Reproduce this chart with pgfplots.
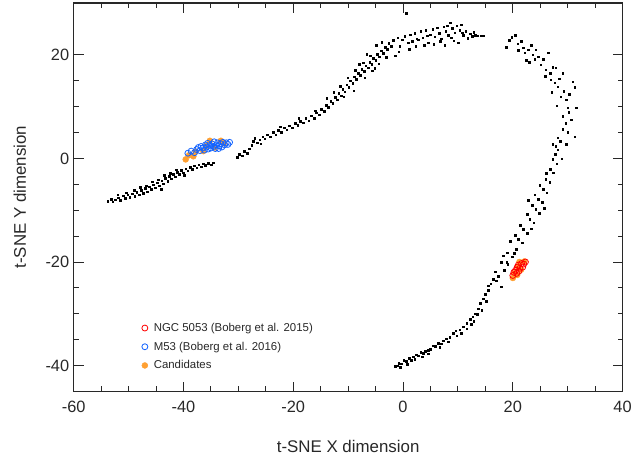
\documentclass[border=0pt]{standalone}
\usepackage{fontspec}
\setmainfont{Liberation Sans}
\usepackage{pgfplots}
\pgfplotsset{compat=1.18}
\definecolor{myblue}{RGB}{20,100,255}
\definecolor{myorange}{RGB}{255,160,50}
\definecolor{myred}{RGB}{255,0,0}
\definecolor{axgray}{RGB}{40,40,40}
\begin{document}
\begin{tikzpicture}
\begin{axis}[
 scale only axis, width=551bp, height=390bp,
 xmin=-60,xmax=40,ymin=-45,ymax=30,
 xtick={-60,-40,-20,0,20,40}, ytick={-40,-20,0,20},
 minor x tick num=3, minor y tick num=3,
 tick pos=both,
 tick align=inside,
 major tick length=10bp, minor tick length=5bp,
 axis on top,
 axis line style={axgray, line width=1.2bp},
 every tick/.style={axgray, line width=0.9bp},
 ticklabel style={font=\fontsize{16.5}{20}\selectfont, text=axgray},
 xticklabel style={yshift=-6bp},
 yticklabel style={xshift=-1bp},
 /pgf/number format/assume math mode=true,
 xlabel={t-SNE X dimension}, ylabel={t-SNE Y dimension},
 label style={font=\fontsize{17}{20}\selectfont, text=axgray},
 xlabel style={at={(axis description cs:0.5,-0.142)},anchor=center},
 ylabel style={at={(axis description cs:-0.098,0.5)},anchor=center},
 legend style={at={(rel axis cs:0.122,0.184)}, anchor=north west, draw=none, fill=none,
   font=\fontsize{11.5}{14}\selectfont, text=axgray, row sep=5bp, inner sep=1bp,
   /tikz/every odd column/.append style={column sep=4bp}},
 legend cell align=left,
 legend image code/.code={\draw[#1] plot coordinates {(3bp,0bp)};},
]
% t-SNE points
\addplot[only marks, mark=square*, mark size=0.8bp, black, forget plot] coordinates {
(-53.8,-8.3) (-53.2,-7.9) (-52.9,-8.4) (-52.4,-8.0) (-51.9,-7.6) (-51.5,-8.1) (-51.0,-7.2) (-50.6,-7.7)
(-50.2,-7.0) (-49.8,-7.5) (-49.3,-6.8) (-48.9,-7.3) (-48.5,-6.5) (-48.1,-7.0) (-47.7,-6.2) (-47.3,-6.7)
(-47.0,-5.8) (-46.6,-6.4) (-46.2,-5.5) (-45.9,-6.0) (-45.5,-5.1) (-45.1,-5.7) (-44.8,-4.7) (-44.4,-5.3)
(-44.0,-4.3) (-43.7,-4.9) (-43.3,-3.8) (-42.9,-4.4) (-42.6,-3.4) (-42.2,-3.9) (-41.9,-3.0) (-41.5,-3.5)
(-41.1,-2.7) (-40.8,-3.1) (-40.4,-2.3) (-40.0,-2.8) (-39.6,-2.0) (-39.2,-2.4) (-38.8,-1.7) (-38.4,-2.1)
(-38.0,-1.4) (-37.6,-1.8) (-37.2,-1.2) (-36.8,-1.6) (-36.4,-1.0) (-36.0,-1.3) (-35.5,-0.9) (-35.0,-1.2)
(-34.6,-0.8) (-49.0,-6.2) (-46.8,-5.3) (-44.6,-4.1) (-42.4,-2.9) (-52.0,-7.0) (-50.4,-6.6)
(-47.9,-5.6) (-45.7,-4.5) (-43.5,-3.3) (-41.3,-2.2) (-39.9,-3.3) (-44.1,-5.9)
(-30.2,0.2) (-29.8,0.8) (-29.3,0.5) (-28.9,1.4) (-28.4,1.0) (-28.0,1.9) (-27.6,2.6) (-27.3,3.3)
(-27.0,3.9) (-26.6,3.0) (-26.1,3.6) (-25.6,4.2) (-25.2,3.8) (-24.7,4.6) (-24.2,4.2) (-23.7,5.0)
(-23.2,4.6) (-22.7,5.4) (-22.2,5.0) (-21.7,5.9) (-21.2,5.5) (-20.7,6.3) (-20.2,5.9) (-19.7,6.8)
(-19.2,6.4) (-18.7,7.2) (-18.2,6.9) (-17.7,7.7) (-17.2,7.3) (-16.7,8.2) (-16.2,7.8) (-15.8,8.8)
(-15.3,8.4) (-14.9,9.5) (-14.4,9.1) (-14.0,10.3) (-13.6,9.9) (-13.2,11.0) (-12.8,10.6) (-12.4,11.8)
(-12.0,11.3) (-11.7,12.6) (-11.3,12.1) (-11.0,13.4) (-10.6,12.9) (-10.3,14.2) (-9.9,13.7) (-9.6,15.0)
(-9.2,14.5) (-8.9,15.8) (-8.5,15.3) (-8.2,16.5) (-7.8,16.1) (-7.5,17.2) (-7.1,16.8) (-6.8,17.9)
(-6.4,17.5) (-6.1,18.6) (-5.7,18.2) (-5.4,19.3) (-5.0,18.9) (-4.7,20.1) (-4.3,19.6) (-4.0,20.8)
(-3.6,20.3) (-3.3,21.5) (-2.9,21.1) (-2.6,22.2) (-2.2,21.7) (-11.5,13.9) (-10.1,15.6) (-8.7,17.0)
(-7.3,18.5) (-6.0,19.8) (-5.2,17.4) (-3.9,22.4) (-12.6,12.8) (-16.0,9.2)
(-25.9,2.8) (-22.4,6.1) (-19.0,7.8) (-13.9,11.6) (-10.8,11.9) (-9.0,13.1) (-7.0,15.6) (-5.6,16.9)
(-4.4,18.3) (-3.1,19.5) (-8.0,18.2) (-6.6,20.1) (-4.9,21.8)
(-1.8,22.8) (-1.4,19.8) (-1.0,23.3) (-0.6,21.6) (-0.2,22.9) (0.3,23.6) (0.6,28.0) (0.9,22.3)
(1.3,23.9) (1.7,22.6) (2.1,24.2) (2.5,23.1) (2.8,22.9) (3.2,24.5) (3.6,23.3) (4.1,24.8)
(4.6,22.3) (5.0,23.9) (5.4,24.9) (5.8,23.5) (6.2,25.2) (6.6,24.2) (7.0,23.1) (7.4,25.4)
(7.8,24.6) (8.2,23.8) (8.6,26.2) (9.0,25.1) (9.4,24.3) (9.8,25.6) (10.0,22.3) (10.3,24.8)
(10.6,25.8) (11.0,23.8) (11.4,24.5) (11.8,23.2) (12.2,24.1) (12.6,23.6) (13.1,23.8) (13.6,23.7)
(14.2,23.7) (14.7,23.7) (2.3,21.6) (4.4,23.7) (6.8,22.6) (8.8,23.3) (10.8,24.3) (12.9,24.4)
(3.9,21.9) (5.6,22.0) (-0.8,20.6) (1.1,21.1) (7.6,21.9) (9.2,22.7) (8.0,25.6)
(18.8,21.5) (19.3,22.8) (19.8,23.4) (20.4,23.8) (20.9,22.1) (21.5,22.6) (21.9,21.4) (22.2,20.4)
(22.4,19.0) (22.8,21.0) (23.3,21.9) (23.6,20.0) (24.0,19.2) (24.2,21.0) (24.6,19.6) (25.1,18.1)
(25.5,19.2) (26.0,17.1) (26.4,20.4) (26.8,16.5) (26.9,15.2) (27.3,17.6) (27.8,17.5) (27.6,14.6)
(28.2,13.8) (28.5,15.4) (28.7,11.9) (29.1,16.5) (29.3,13.0) (29.7,11.3) (30.0,9.8) (30.3,12.4)
(30.9,14.8) (31.3,13.7) (31.5,9.8) (29.1,8.1) (30.6,7.5) (29.6,6.8) (30.2,8.9) (29.1,5.6)
(30.0,5.0) (28.2,4.0) (31.3,4.2) (27.8,2.3) (29.7,2.7) (27.3,2.7) (28.6,3.3) (28.2,1.7)
(27.7,0.8) (27.3,-0.2) (28.0,-1.0) (26.8,-2.1) (27.4,-2.8) (26.0,-4.0) (26.7,-4.6) (25.5,-6.0)
(26.2,-6.6) (24.9,-5.2) (24.6,-7.9) (25.3,-8.5) (24.0,-7.0) (24.2,-9.8) (24.8,-10.6) (23.5,-9.0)
(23.1,-11.7) (23.8,-12.4) (22.6,-10.8) (21.9,-13.7) (22.6,-14.4) (21.3,-12.9) (21.0,-15.6) (21.7,-16.3)
(20.4,-14.8) (20.6,-17.5) (19.5,-16.0) (19.9,-19.0) (18.2,-18.8) (19.0,-18.2) (18.9,-20.1) (17.9,-20.0)
(19.1,-20.4) (16.8,-21.9) (17.3,-22.7) (18.4,-21.6) (16.4,-23.3) (16.0,-24.2) (15.5,-24.6) (17.9,-24.8)
(17.0,-23.6) (21.0,20.9) (23.0,18.6) (25.9,15.9) (27.1,12.8) (28.0,10.2) (28.9,-0.1) (26.1,-2.9)
(25.7,-9.6) (23.4,-13.6) (20.3,-18.3) (22.8,-8.1)
(15.5,-25.4) (15.0,-26.2) (14.6,-27.1) (15.2,-27.6) (14.1,-28.0) (13.7,-29.0) (14.3,-29.3) (13.2,-30.0)
(12.7,-30.6) (12.2,-31.0) (12.9,-31.4) (11.6,-31.8) (11.0,-32.5) (11.6,-32.9) (10.3,-33.1) (9.6,-33.3)
(9.1,-33.8) (9.8,-34.2) (8.5,-34.5) (7.9,-34.8) (7.3,-35.2) (7.0,-35.8) (6.4,-35.7) (5.9,-36.3)
(5.5,-36.2) (5.0,-36.8) (4.6,-37.0) (4.6,-37.7) (4.0,-37.2) (3.7,-37.6) (3.2,-37.4) (2.8,-38.1)
(2.4,-37.9) (1.9,-38.3) (1.5,-39.0) (1.1,-38.6) (0.6,-39.2) (0.1,-39.0) (-0.3,-39.6) (-0.8,-39.5)
(-1.1,-40.0) (-1.4,-40.1) (-0.5,-40.3) (0.8,-39.7) (2.1,-38.8) (3.5,-38.3) (6.7,-36.4) (8.2,-35.4)
(10.6,-33.8) (12.4,-32.0) (13.5,-30.1)
};
% candidates
\addplot[only marks, mark=*, mark size=3bp, myorange, forget plot] coordinates {
(-39.6,-0.2) (-39.0,0.6) (-38.2,0.4) (-37.8,1.3) (-35.2,3.4) (-33.2,3.4) (-34.3,2.1) (-36.4,1.4)
(-35.8,2.4) (-32.6,2.9)
(20.0,-23.1) (20.3,-22.2) (21.0,-21.0) (21.2,-20.0) (22.1,-19.9) (20.8,-22.5) (21.5,-21.5)
};
% M53
\addplot[only marks, mark=o, mark size=3bp, myblue, line width=0.8bp, forget plot] coordinates {
(-39.2,1.0) (-38.6,1.4) (-38.0,1.1) (-37.6,1.7) (-37.0,1.5) (-36.5,2.0) (-36.2,1.6) (-35.8,2.2)
(-35.5,1.8) (-35.2,2.5) (-35.0,2.0) (-34.8,2.8) (-34.5,2.3) (-34.2,1.9) (-34.0,2.6) (-33.8,3.0)
(-33.5,2.4) (-33.2,2.8) (-33.0,2.2) (-32.8,3.1) (-32.5,2.6) (-32.2,3.0) (-31.9,2.7) (-31.6,3.1)
(-36.8,2.3) (-35.6,2.9) (-34.4,3.2) (-33.6,1.9) (-37.3,2.1) (-36.0,2.6)
};
% NGC 5053
\addplot[only marks, mark=o, mark size=3bp, myred, line width=0.8bp, forget plot] coordinates {
(20.0,-22.6) (20.2,-22.0) (20.5,-21.6) (20.8,-21.0) (21.0,-20.6) (21.3,-21.2) (21.6,-20.3) (22.0,-20.4)
(22.3,-20.0) (20.7,-22.2) (21.1,-21.8) (21.8,-21.0)
};
\addlegendimage{only marks, mark=o, mark size=3bp, myred, line width=0.8bp}
\addlegendentry{NGC 5053 (Boberg et al. 2015)}
\addlegendimage{only marks, mark=o, mark size=3bp, myblue, line width=0.8bp}
\addlegendentry{M53 (Boberg et al. 2016)}
\addlegendimage{only marks, mark=*, mark size=3bp, myorange}
\addlegendentry{Candidates}
\end{axis}
\path ([xshift=-74bp,yshift=-71bp]current axis.south west) rectangle ([xshift=10bp,yshift=3bp]current axis.north east);
\end{tikzpicture}
\end{document}
